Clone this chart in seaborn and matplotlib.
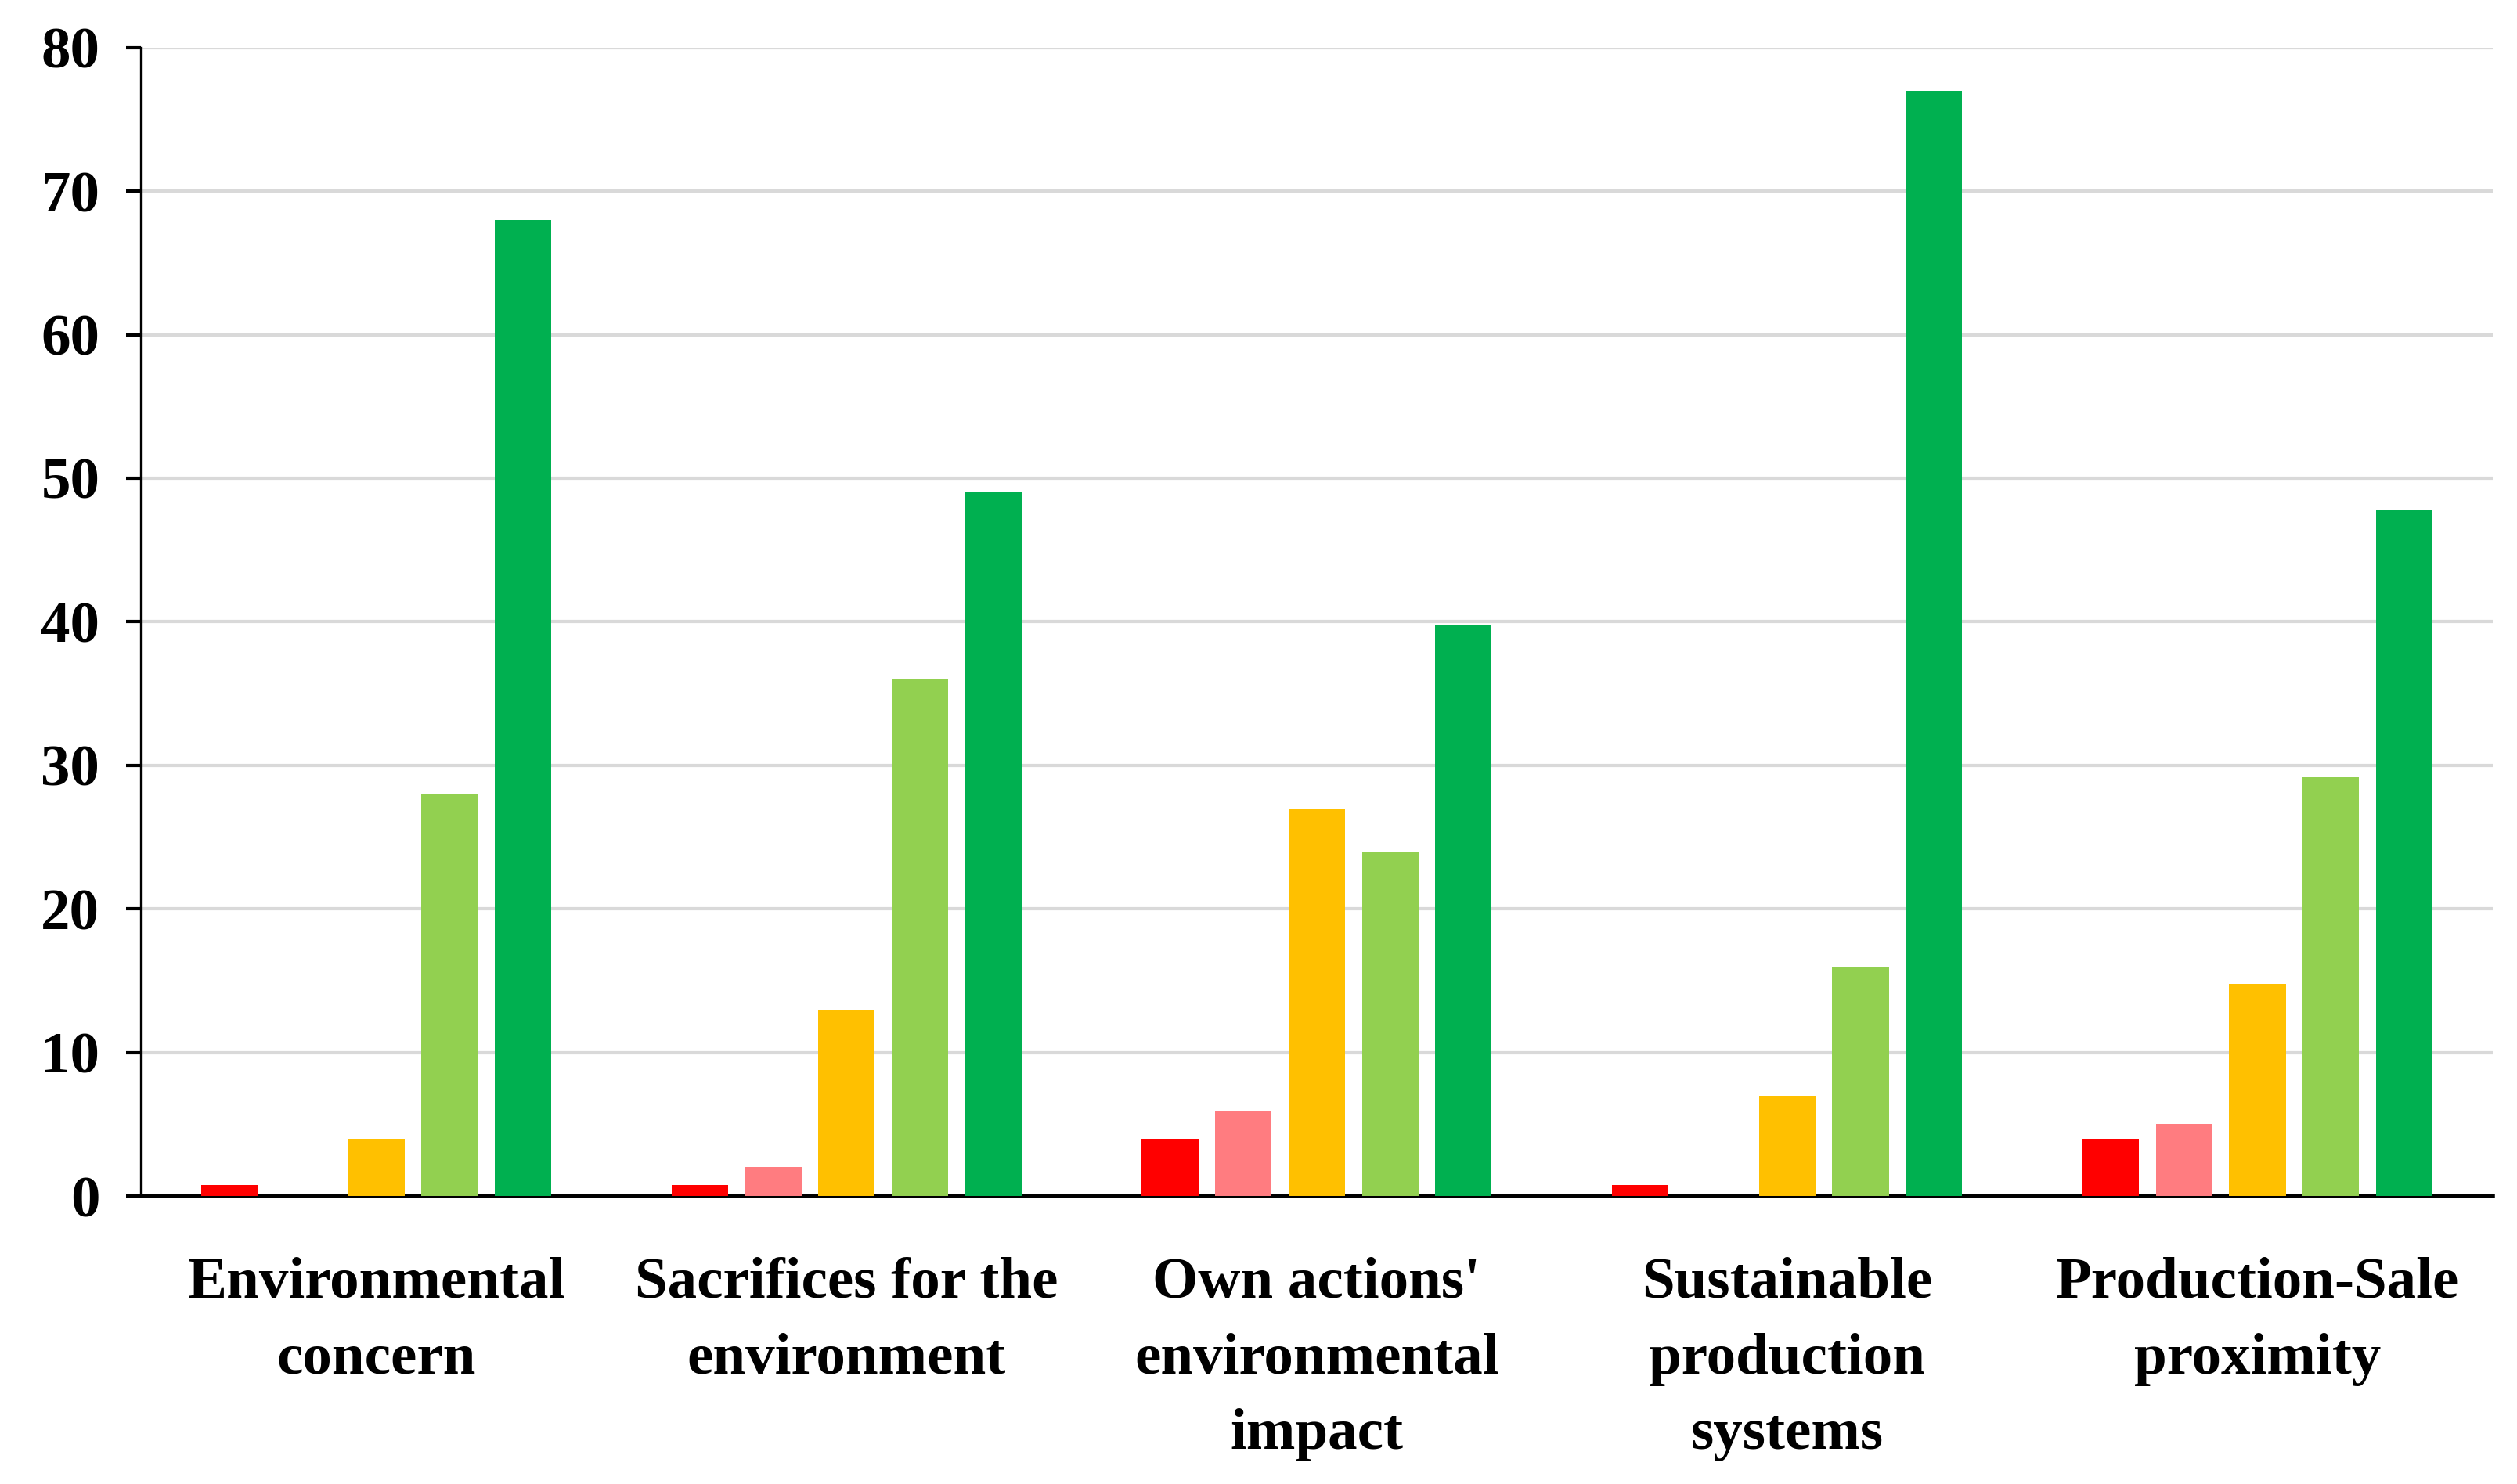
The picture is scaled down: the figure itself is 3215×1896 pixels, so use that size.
import pandas as pd
import matplotlib.pyplot as plt
import seaborn as sns

# Datos
categorias = ["Environmental\nconcern", "Sacrifices for the\nenvironment",
              "Own actions'\nenvironmental\nimpact", "Sustainable\nproduction\nsystems",
              "Production-Sale\nproximity"]
niveles = ["1", "2", "3", "4", "5"]
nivel_1 = [0.8, 0.8, 4, 0.8, 4]
nivel_2 = [0, 2, 5.9, 0, 5]
nivel_3 = [4, 13, 27, 7, 14.8]
nivel_4 = [28, 36, 24, 16, 29.2]
nivel_5 = [68, 49, 39.8, 77, 47.8]
colores = ["#FF0000", "#FF7C80", "#FFC000", "#92D050", "#00B050"]
y_ticks = [0, 10, 20, 30, 40, 50, 60, 70, 80]

filas = []
for nivel, valores in zip(niveles, [nivel_1, nivel_2, nivel_3, nivel_4, nivel_5]):
    for cat, v in zip(categorias, valores):
        filas.append({"categoria": cat, "nivel": nivel, "valor": v})
df = pd.DataFrame(filas)

sns.set_style("white")
plt.rcParams['font.family'] = ['Liberation Serif', 'DejaVu Serif']
plt.rcParams['font.weight'] = 'bold'
plt.rcParams['text.color'] = 'black'
plt.rcParams['xtick.color'] = 'black'
plt.rcParams['ytick.color'] = 'black'

fig = plt.figure(figsize=(16.08, 9.48), dpi=200)
ax = fig.add_axes([0.056, 0.194, 0.934, 0.774])

sns.barplot(data=df, x="categoria", y="valor", hue="nivel", hue_order=niveles,
            order=categorias, palette=colores, saturation=1, width=0.78, gap=0.23,
            legend=False, ax=ax, zorder=3, linewidth=0, edgecolor="none")

ax.set_ylim(0, 80)
ax.set_yticks(y_ticks)
ax.set_xlim(-0.5, 4.5)
ax.set_xlabel("")
ax.set_ylabel("")
ax.yaxis.grid(True, color="#D9D9D9", linewidth=1.5, zorder=0)
ax.set_axisbelow(True)

for lado in ["top", "right"]:
    ax.spines[lado].set_visible(False)
ax.spines["left"].set_color("black")
ax.spines["left"].set_linewidth(1.2)
ax.spines["bottom"].set_color("black")
ax.spines["bottom"].set_linewidth(2)

ax.tick_params(axis="y", direction="out", length=7, width=1.5, colors="black",
               labelsize=27, pad=12, left=True)
ax.tick_params(axis="x", length=0, labelsize=27, pad=28, colors="black")
for t in ax.get_xticklabels():
    t.set_fontweight("bold")
    t.set_linespacing(1.55)
    t.set_color("black")
for t in ax.get_yticklabels():
    t.set_fontweight("bold")
    t.set_color("black")

fig.savefig("out.png", dpi=200, facecolor="white")
